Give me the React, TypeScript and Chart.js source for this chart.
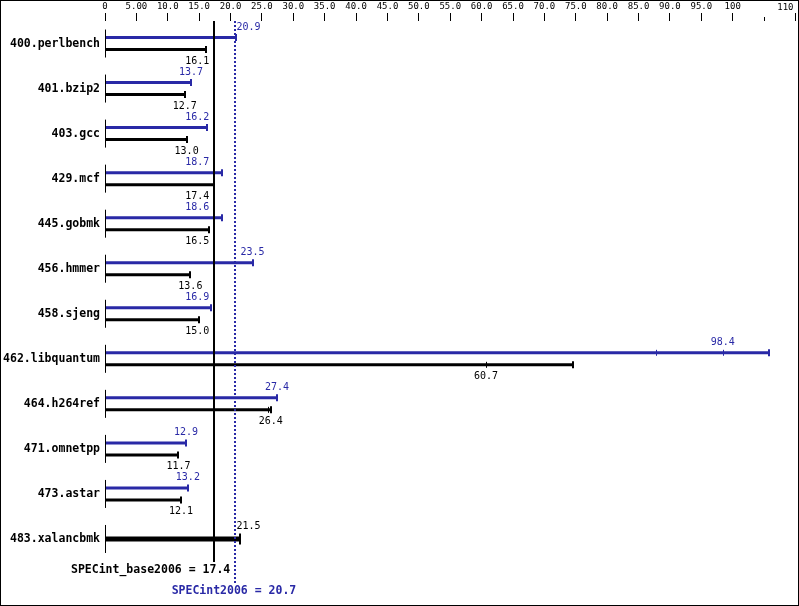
import React, { useEffect, useRef } from 'react';
import { Chart, registerables } from 'chart.js';

Chart.register(...registerables);

const benchmarks = [
  '400.perlbench', '401.bzip2', '403.gcc', '429.mcf', '445.gobmk', '456.hmmer',
  '458.sjeng', '462.libquantum', '464.h264ref', '471.omnetpp', '473.astar', '483.xalancbmk',
];
// peak (blue) runs: median score, highest run, lowest run
const peakMedian = [20.9, 13.7, 16.2, 18.7, 18.6, 23.5, 16.9, 98.4, 27.4, 12.9, 13.2, null];
const peakHigh = [20.9, 13.7, 16.2, 18.7, 18.6, 23.5, 16.9, 105.8, 27.4, 12.9, 13.2, null];
const peakLow = [20.9, 13.7, 16.2, 18.7, 18.6, 23.5, 16.9, 87.7, 27.4, 12.9, 13.2, null];
// base (black) runs
const baseMedian = [16.1, 12.7, 13.0, 17.4, 16.5, 13.6, 15.0, 60.7, 26.4, 11.7, 12.1, null];
const baseHigh = [16.1, 12.7, 13.0, 17.4, 16.5, 13.6, 15.0, 74.6, 26.45, 11.7, 12.1, null];
const baseLow = [16.1, 12.7, 13.0, 17.4, 16.5, 13.6, 15.0, 60.7, 26.0, 11.7, 12.1, null];
// base == peak (single thick bar)
const sharedMedian = [null, null, null, null, null, null, null, null, null, null, null, 21.5];
const sharedHigh = [null, null, null, null, null, null, null, null, null, null, null, 21.5];

const axisTicks = [0, 5, 10, 15, 20, 25, 30, 35, 40, 45, 50, 55, 60, 65, 70, 75, 80, 85, 90, 95, 100, 105, 110];
const unlabeledTicks = [105];
const baseMean = 17.4;
const peakMean = 20.7;
const baseMeanLabel = 'SPECint_base2006';
const peakMeanLabel = 'SPECint2006';

const BLUE = '#2929a6';
const BLACK = '#000000';
const MONO = '"DejaVu Sans Mono", "Liberation Mono", monospace';

function fmtTick(v: number): string {
  if (v === 0) return '0';
  if (v < 10) return v.toFixed(2);
  if (v < 100) return v.toFixed(1);
  return v.toFixed(0);
}

const specPlugin = {
  id: 'specDecor',
  afterDatasetsDraw(chart: any) {
    const ctx: CanvasRenderingContext2D = chart.ctx;
    const xs = chart.scales.x;
    const ys = chart.scales.y;
    const area = chart.chartArea;
    const xb = xs.getPixelForValue(baseMean);
    const xd = xs.getPixelForValue(peakMean);
    const x0 = Math.round(xs.getPixelForValue(0)) + 0.5;

    const vline = (x: number, y1: number, y2: number, w: number, c: string) => {
      ctx.beginPath();
      ctx.lineWidth = w;
      ctx.strokeStyle = c;
      ctx.moveTo(x, y1);
      ctx.lineTo(x, y2);
      ctx.stroke();
    };

    ctx.save();
    // outer frame
    ctx.strokeStyle = BLACK;
    ctx.lineWidth = 1;
    ctx.strokeRect(0.5, 0.5, chart.width - 1, chart.height - 1);

    // short unlabeled ticks + last label
    unlabeledTicks.forEach((v) => {
      const px = Math.round(xs.getPixelForValue(v)) + 0.5;
      vline(px, area.top - 4, area.top, 1, BLACK);
    });
    const lastV = axisTicks[axisTicks.length - 1];
    ctx.font = `9px ${MONO}`;
    ctx.fillStyle = BLACK;
    ctx.textAlign = 'right';
    ctx.textBaseline = 'middle';
    ctx.fillText(fmtTick(lastV), xs.getPixelForValue(lastV) - 2, 7.5);

    // category brackets at zero
    benchmarks.forEach((_, i) => {
      const cy = ys.getPixelForValue(i);
      vline(x0, cy - 14, cy + 14, 1, BLACK);
    });

    // mean lines
    vline(Math.round(xb), Math.round(area.top), Math.round(area.bottom), 2, BLACK);
    ctx.setLineDash([2, 2]);
    vline(Math.round(xd), Math.round(area.top), Math.round(area.bottom) + 21, 2, BLUE);
    ctx.setLineDash([]);

    const groups = [
      { ds: 0, median: peakMedian, low: peakLow, high: peakHigh, color: BLUE, dy: -10.5 },
      { ds: 1, median: baseMedian, low: baseLow, high: baseHigh, color: BLACK, dy: 11.5 },
      { ds: 2, median: sharedMedian, low: sharedMedian, high: sharedHigh, color: BLACK, dy: -12.5 },
    ];
    ctx.font = `10px ${MONO}`;
    ctx.textBaseline = 'middle';
    ctx.textAlign = 'left';
    groups.forEach((g) => {
      const meta = chart.getDatasetMeta(g.ds);
      meta.data.forEach((bar: any, i: number) => {
        const med = g.median[i];
        const hi = g.high[i];
        const lo = g.low[i];
        if (med === null || hi === null) return;
        const thick = bar.height;
        const capHalf = thick + 0.5;
        // end cap at highest run
        vline(Math.round(bar.x), bar.y - capHalf, bar.y + capHalf, 2, g.color);
        const xm = xs.getPixelForValue(med);
        if (med !== hi) vline(Math.round(xm) + 0.5, bar.y - capHalf + 0.5, bar.y + capHalf - 0.5, 1, g.color);
        if (lo !== null && lo !== hi && lo !== med) {
          vline(Math.round(xs.getPixelForValue(lo)) + 0.5, bar.y - capHalf + 0.5, bar.y + capHalf - 0.5, 1, g.color);
        }
        // value label
        const txt = med.toFixed(1);
        const w = ctx.measureText(txt).width;
        let L = xm - w / 2;
        const R = xm + w / 2;
        if (R > xb - 5 && L < xd + 1) {
          if (xm < (xb + xd) / 2) L = xb - 5 - w;
          else L = xd + 1.5;
        }
        ctx.fillStyle = g.color;
        ctx.fillText(txt, L, bar.y + g.dy);
      });
    });

    // mean labels
    ctx.font = `bold 11.5px ${MONO}`;
    ctx.textBaseline = 'middle';
    ctx.fillStyle = BLACK;
    ctx.textAlign = 'right';
    ctx.fillText(`${baseMeanLabel} = ${baseMean.toFixed(1)}`, xb + 16, area.bottom + 8.5);
    ctx.fillStyle = BLUE;
    ctx.textAlign = 'center';
    ctx.fillText(`${peakMeanLabel} = ${peakMean.toFixed(1)}`, xd - 1, area.bottom + 30);
    ctx.restore();
  },
};

export default function App() {
  const ref = useRef<HTMLCanvasElement | null>(null);
  useEffect(() => {
    if (!ref.current) return;
    const chart = new Chart(ref.current, {
      type: 'bar',
      data: {
        labels: benchmarks,
        datasets: [
          {
            label: 'peak',
            data: peakHigh as any,
            backgroundColor: BLUE,
            categoryPercentage: 0.533,
            barPercentage: 0.25,
          },
          {
            label: 'base',
            data: baseHigh as any,
            backgroundColor: BLACK,
            categoryPercentage: 0.533,
            barPercentage: 0.25,
          },
          {
            label: 'base = peak',
            data: sharedHigh as any,
            backgroundColor: BLACK,
            grouped: false,
            categoryPercentage: 0.5,
            barPercentage: 0.222,
          } as any,
        ],
      },
      options: {
        indexAxis: 'y',
        animation: false,
        responsive: false,
        devicePixelRatio: 1,
        layout: { padding: { top: 0, left: 0, right: 3.5, bottom: 44.5 } },
        plugins: { legend: { display: false }, tooltip: { enabled: false } },
        scales: {
          x: {
            type: 'linear',
            position: 'top',
            min: 0,
            max: 110,
            afterBuildTicks: (s: any) => {
              s.ticks = axisTicks.map((v) => ({ value: v }));
            },
            afterFit: (s: any) => {
              s.height = 21;
            },
            grid: {
              display: true,
              drawOnChartArea: false,
              drawTicks: true,
              tickLength: 8,
              lineWidth: 1,
              color: (c: any) =>
                c.tick && unlabeledTicks.includes(c.tick.value) ? 'rgba(0,0,0,0)' : BLACK,
            },
            border: { display: false },
            ticks: {
              autoSkip: false,
              maxRotation: 0,
              padding: 1,
              color: BLACK,
              font: { family: MONO, size: 9 },
              callback: (v: any) => {
                const n = Number(v);
                if (unlabeledTicks.includes(n) || n === axisTicks[axisTicks.length - 1]) return '';
                return fmtTick(n);
              },
            },
          },
          y: {
            type: 'category',
            afterFit: (s: any) => {
              s.width = 105;
            },
            grid: { display: false, drawTicks: false },
            border: { display: false },
            ticks: {
              padding: 5,
              color: BLACK,
              font: { family: MONO, size: 11.5, weight: 'bold' },
            },
          },
        },
      },
      plugins: [specPlugin],
    });
    return () => chart.destroy();
  }, []);
  return (
    <div style={{ position: 'fixed', left: 0, top: 0, width: 799, height: 606, background: '#fff' }}>
      <canvas ref={ref} width={799} height={606} style={{ display: 'block' }} />
    </div>
  );
}
